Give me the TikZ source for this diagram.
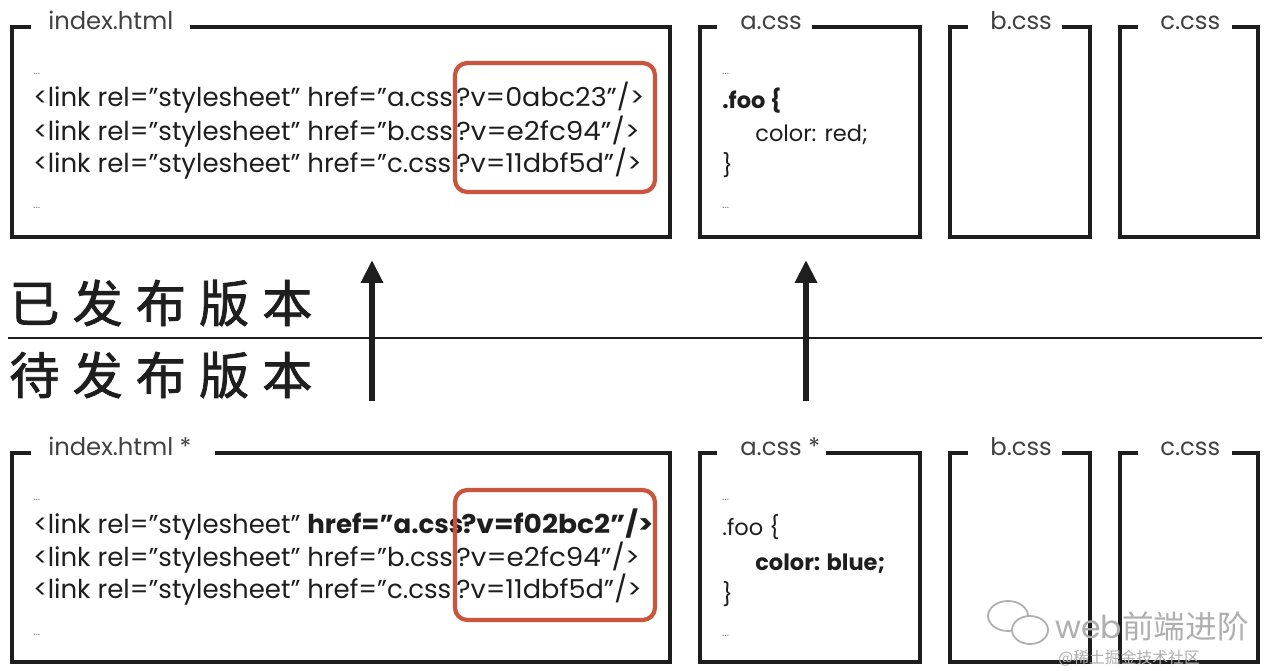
\documentclass[tikz,border=0pt]{standalone}
\usepackage{fontspec}
\usepackage{graphicx}
\setmainfont{Poppins}
\newfontfamily\cjk{Noto Sans CJK SC}
\newfontfamily\cjkb[FakeBold=1.6]{Noto Sans CJK SC}
\usetikzlibrary{arrows.meta}
\definecolor{hlred}{RGB}{200,85,60}
\definecolor{ink}{RGB}{30,30,30}
\definecolor{wm}{RGB}{175,175,175}
\newcommand{\wide}[2]{\scalebox{#1}[1]{#2}}
\begin{document}
\begin{tikzpicture}[x=0.02cm,y=-0.02cm,
  frame/.style={line width=2.4pt, draw=ink, line join=miter},
  code/.style={anchor=base west, inner sep=0pt, font=\fontsize{14.8}{16}\selectfont, text=ink},
  css/.style={anchor=base west, inner sep=0pt, font=\fontsize{12.8}{14}\selectfont, text=ink},
  ttl/.style={anchor=base west, inner sep=0pt, font=\fontsize{13.8}{15}\selectfont, text=black!75},
  dots/.style={anchor=base west, inner sep=0pt, font=\fontsize{6}{7}\selectfont, text=black!55},
  hl/.style={draw=hlred, line width=2.4pt, rounded corners=7pt},
  up/.style={line width=3.2pt, draw=ink, -{Triangle[length=13pt,width=12pt]}},
  zh/.style={anchor=west, inner sep=0pt, font=\cjkb\fontsize{28.5}{30}\selectfont, text=ink}]
\useasboundingbox[fill=white] (0,0) rectangle (1268,670);

% ---------------- top row (published) ----------------
\node[ttl] (tidx) at (48,29) {index.html};
\draw[frame] (31,27) -- (12,27) -- (12,237) -- (670,237) -- (670,27) -- (190,27);
\node[dots] (ti0) at (33,74) {...};
\node[code] (ti1) at (33,106) {<link rel="stylesheet" href="a.css};
\node[code] (ti1s) at (456,106) {\wide{1.04}{?v=0abc23"/>}};
\node[code] (ti2) at (33,140) {<link rel="stylesheet" href="b.css};
\node[code] (ti2s) at (456,140) {\wide{1.07}{?v=e2fc94"/>}};
\node[code] (ti3) at (33,172) {<link rel="stylesheet" href="c.css};
\node[code] (ti3s) at (456,172) {\wide{1.045}{?v=11dbf5d"/>}};
\node[dots] (ti4) at (33,208) {...};
\draw[hl] (455,63) rectangle (655,192);

\node[ttl] (ta) at (740,29) {a.css};
\draw[frame] (717,27) -- (700,27) -- (700,237) -- (920,237) -- (920,27) -- (812,27);
\node[dots] (ta0) at (722,74) {...};
\node[css] (ta1) at (722,108) {\bfseries .foo \{};
\node[css] (ta2) at (755,141) {color: red;};
\node[css] (ta3) at (722,173) {\}};
\node[dots] (ta4) at (722,208) {...};

\node[ttl] (tb) at (990,29) {b.css};
\draw[frame] (968,27) -- (950,27) -- (950,237) -- (1090,237) -- (1090,27) -- (1062,27);

\node[ttl] (tc) at (1160,29) {c.css};
\draw[frame] (1138,27) -- (1120,27) -- (1120,237) -- (1258,237) -- (1258,27) -- (1232,27);

% ---------------- divider ----------------
\node[zh] (pub) at (9,303) {已\hspace{7.5pt}发\hspace{7.5pt}布\hspace{7.5pt}版\hspace{7.5pt}本};
\node[zh] (pend) at (9,375) {待\hspace{7.5pt}发\hspace{7.5pt}布\hspace{7.5pt}版\hspace{7.5pt}本};
\coordinate (divl) at (8,338);
\coordinate (divr) at (1262,338);
\draw[line width=1.3pt, draw=ink] (divl) -- (divr);

\coordinate (a1s) at (372,401);
\coordinate (a1e) at (372,260);
\coordinate (a2s) at (806,401);
\coordinate (a2e) at (806,260);
\draw[up] (a1s) -- (a1e);
\draw[up] (a2s) -- (a2e);

% ---------------- bottom row (pending) ----------------
\node[ttl] (bidx) at (48,455) {index.html *};
\draw[frame] (31,453) -- (12,453) -- (12,662) -- (670,662) -- (670,453) -- (215,453);
\node[dots] (bi0) at (33,500) {...};
\node[code] (bi1) at (33,533) {<link rel="stylesheet" \textbf{href="a.css}};
\node[code, font=\fontsize{14.8}{16}\bfseries] (bi1s) at (461,533) {\wide{1.08}{?v=f02bc2"/>}};
\node[code] (bi2) at (33,566) {<link rel="stylesheet" href="b.css};
\node[code] (bi2s) at (456,566) {\wide{1.07}{?v=e2fc94"/>}};
\node[code] (bi3) at (33,598) {<link rel="stylesheet" href="c.css};
\node[code] (bi3s) at (456,598) {\wide{1.045}{?v=11dbf5d"/>}};
\node[dots] (bi4) at (33,635) {...};
\draw[hl] (455,490) rectangle (655,620);

\node[ttl] (ba) at (740,455) {a.css *};
\draw[frame] (717,453) -- (700,453) -- (700,662) -- (920,662) -- (920,453) -- (826,453);
\node[dots] (ba0) at (722,500) {...};
\node[css] (ba1) at (722,535) {.foo \{};
\node[css] (ba2) at (755,570) {\bfseries color: blue;};
\node[css] (ba3) at (722,602) {\}};
\node[dots] (ba4) at (722,636) {...};

\node[ttl] (bb) at (990,455) {b.css};
\draw[frame] (968,453) -- (950,453) -- (950,662) -- (1090,662) -- (1090,453) -- (1062,453);

\node[ttl] (bc) at (1160,455) {c.css};
\draw[frame] (1138,453) -- (1120,453) -- (1120,662) -- (1258,662) -- (1258,453) -- (1232,453);

% ---------------- watermark ----------------
\draw[wm, line width=1pt, fill=white] (1008,616) ellipse [x radius=20, y radius=15];
\draw[wm, line width=1pt, fill=white] (1030,630) ellipse [x radius=18, y radius=14];
\node[anchor=base west, inner sep=0pt, text=wm, font=\fontsize{18}{19}\selectfont] (wm1) at (1055,638) {web\cjk 前端进阶};
\node[anchor=base west, inner sep=0pt, text=wm, font=\cjk\fontsize{9}{10}\selectfont] (wm2) at (1058,663) {@稀土掘金技术社区};
\end{tikzpicture}
\end{document}
